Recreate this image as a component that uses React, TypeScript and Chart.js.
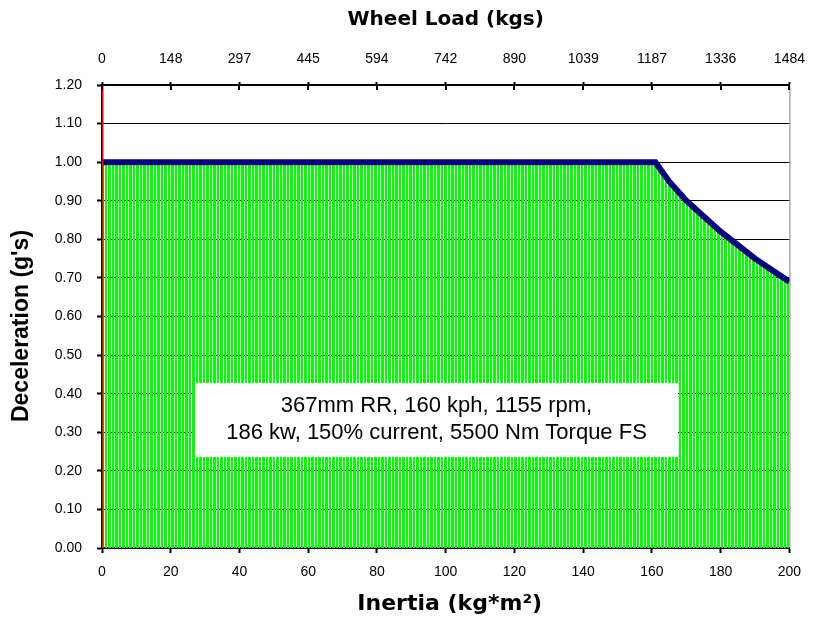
import React, { useEffect, useRef } from "react";
import { Chart, registerables } from "chart.js";

Chart.register(...registerables);

// Inertia (kg*m²) breakpoints and deceleration (g's)
const inertia = [0, 161, 165, 170, 175, 180, 185, 190, 195, 200];
const decel = [1.0, 1.0, 0.95, 0.9, 0.86, 0.82, 0.785, 0.75, 0.72, 0.69];

// Red reference line at inertia 0
const redLineX = [0, 0];
const redLineY = [0, 1.2];

// Top axis (wheel load, kgs) tick labels
const topLabels = ["0", "148", "297", "445", "594", "742", "890", "1039", "1187", "1336", "1484"];

const noteLines = ["367mm RR, 160 kph, 1155 rpm,", "186 kw, 150% current, 5500 Nm Torque FS"];

function makeStripePattern(): CanvasPattern | string {
  const c = document.createElement("canvas");
  c.width = 7;
  c.height = 1;
  const g = c.getContext("2d");
  if (!g) return "#00ff00";
  g.fillStyle = "#00ff00";
  g.fillRect(0, 0, 2, 1);
  g.fillRect(3, 0, 3, 1);
  const p = g.createPattern(c, "repeat");
  return p || "#00ff00";
}

const decorPlugin = {
  id: "decor",
  beforeDatasetsDraw(chart: any) {
    const { ctx, chartArea } = chart;
    ctx.save();
    ctx.strokeStyle = "#808080";
    ctx.lineWidth = 1;
    ctx.beginPath();
    ctx.moveTo(chartArea.right + 0.5, chartArea.top);
    ctx.lineTo(chartArea.right + 0.5, chartArea.bottom);
    ctx.stroke();
    ctx.restore();
  },
  afterDatasetsDraw(chart: any) {
    const { ctx } = chart;
    ctx.save();
    ctx.fillStyle = "#ffffff";
    ctx.fillRect(195, 383, 483, 74);
    ctx.fillStyle = "#000000";
    ctx.font = "22px 'Liberation Sans', Arial, sans-serif";
    ctx.textAlign = "center";
    ctx.textBaseline = "middle";
    ctx.fillText(noteLines[0], 436.5, 406);
    ctx.fillText(noteLines[1], 436.5, 433);
    ctx.restore();
  },
  afterDraw(chart: any) {
    const { ctx, chartArea } = chart;
    const x2 = chart.scales.x2;
    ctx.save();
    ctx.strokeStyle = "#000";
    ctx.lineWidth = 2;
    x2.ticks.forEach((t: any) => {
      const px = Math.round(x2.getPixelForValue(t.value));
      ctx.beginPath();
      ctx.moveTo(px, chartArea.top);
      ctx.lineTo(px, chartArea.top + 5);
      ctx.stroke();
    });
    const cx = (chartArea.left + chartArea.right) / 2;
    ctx.fillStyle = "#000";
    ctx.textAlign = "center";
    ctx.textBaseline = "middle";
    ctx.font = "bold 20px 'DejaVu Sans', Verdana, sans-serif";
    ctx.fillText("Wheel Load (kgs)", cx, 20);
    ctx.font = "bold 22px 'DejaVu Sans', Verdana, sans-serif";
    ctx.fillText("Inertia (kg*m²)", cx + 4, 604);
    ctx.translate(22, 326);
    ctx.rotate(-Math.PI / 2);
    ctx.font = "bold 23px 'Liberation Sans', Arial, sans-serif";
    ctx.fillText("Deceleration (g's)", 0, 0);
    ctx.restore();
  },
};

export default function App() {
  const ref = useRef<HTMLCanvasElement>(null);
  useEffect(() => {
    if (!ref.current) return;
    const tickFont = { family: "'Liberation Sans', Arial, sans-serif", size: 14 };
    const chart = new Chart(ref.current, {
      type: "line",
      data: {
        datasets: [
          {
            data: redLineX.map((x, i) => ({ x, y: redLineY[i] })),
            borderColor: "#ff0000",
            borderWidth: 3,
            pointRadius: 0,
            fill: false,
            order: 0,
          },
          {
            data: inertia.map((x, i) => ({ x, y: decel[i] })),
            borderColor: "#000080",
            borderWidth: 6,
            backgroundColor: makeStripePattern() as any,
            fill: "origin",
            pointRadius: 0,
            tension: 0,
            order: 1,
          },
        ],
      },
      options: {
        responsive: false,
        animation: false,
        layout: { padding: { left: 0, right: 28, top: 0, bottom: 0 } },
        plugins: { legend: { display: false }, tooltip: { enabled: false } },
        scales: {
          x: {
            type: "linear",
            position: "bottom",
            min: 0,
            max: 200,
            ticks: { stepSize: 20, font: tickFont, color: "#000", padding: 11, maxRotation: 0 },
            grid: { drawOnChartArea: false, drawTicks: true, tickLength: 5, tickWidth: 2, tickColor: "#000" },
            border: { display: true, color: "#000", width: 2 },
            afterFit: (s: any) => {
              s.height = 70;
            },
          },
          x2: {
            type: "linear",
            position: "top",
            min: 0,
            max: 200,
            ticks: {
              stepSize: 20,
              font: tickFont,
              color: "#000",
              padding: 14,
              maxRotation: 0,
              callback: (_v: any, i: number) => topLabels[i],
            },
            grid: { drawOnChartArea: false, drawTicks: true, tickLength: 3, tickWidth: 2, tickColor: "#000" },
            border: { display: true, color: "#000", width: 2 },
            afterFit: (s: any) => {
              s.height = 85;
            },
          },
          y: {
            min: 0,
            max: 1.2,
            ticks: {
              stepSize: 0.1,
              font: tickFont,
              color: "#000",
              padding: 15,
              callback: (v: any) => Number(v).toFixed(2),
            },
            grid: {
              color: "#000",
              lineWidth: 1,
              drawTicks: true,
              tickLength: 5,
              tickWidth: 2,
              tickColor: "#000",
            },
            border: { display: true, color: "#000", width: 2 },
            afterFit: (s: any) => {
              s.width = 102;
            },
          },
        },
      },
      plugins: [decorPlugin],
    });
    return () => chart.destroy();
  }, []);
  return (
    <div style={{ position: "absolute", left: 0, top: 0, width: 819, height: 618, background: "#fff" }}>
      <canvas ref={ref} width={819} height={618} style={{ display: "block" }} />
    </div>
  );
}
